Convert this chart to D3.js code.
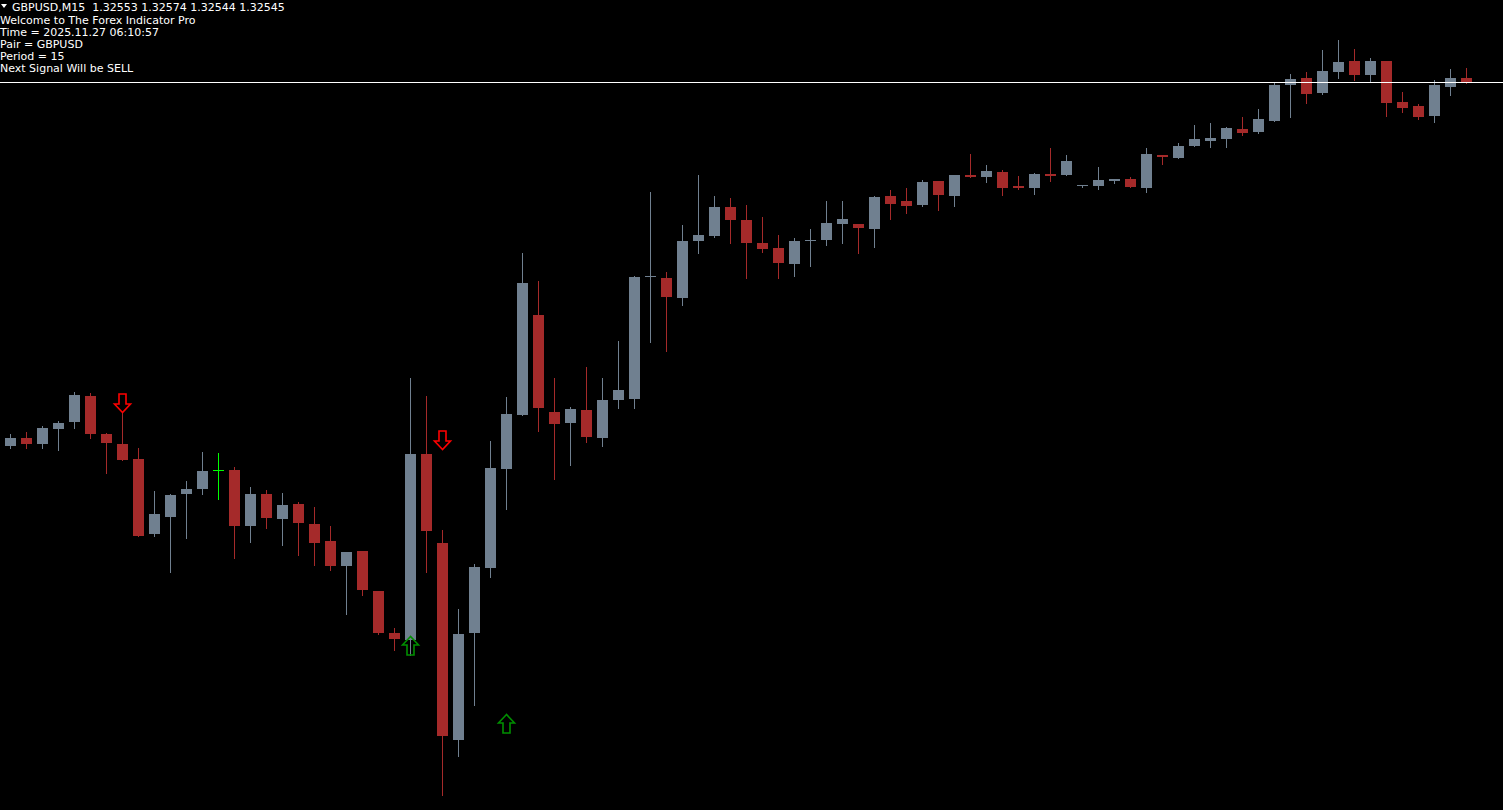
<!DOCTYPE html>
<html>
<head>
<meta charset="utf-8">
<script src="https://cdn.jsdelivr.net/npm/d3@7/dist/d3.min.js"></script>
<style>
  html, body { margin: 0; padding: 0; background: #000; overflow: hidden; }
  svg { display: block; }
  text { white-space: pre; }
</style>
</head>
<body>
<svg id="chart" width="1503" height="810"></svg>
<script>
// ---- Data (GBPUSD, M15) ----
const symbol = "GBPUSD,M15";
const infoLines = [
  "Welcome to The Forex Indicator Pro",
  "Time = 2025.11.27 06:10:57",
  "Pair = GBPUSD",
  "Period = 15",
  "Next Signal Will be SELL"
];

const opens = [
  1.31817,1.31834,1.31821,1.31851,1.31865,1.31918,1.31842,1.31822,1.31792,1.31641,
  1.31675,1.31721,1.31733,1.31769,1.31770,1.31657,1.31722,1.31671,1.31702,1.31662,
  1.31628,1.31577,1.31608,1.31528,1.31443,1.31430,1.31802,1.31624,1.31230,1.31445,
  1.31573,1.31772,1.31880,1.32080,1.31886,1.31864,1.31890,1.31834,1.31910,1.31912,
  1.32157,1.32154,1.32114,1.32228,1.32238,1.32296,1.32270,1.32224,1.32214,1.32182,
  1.32229,1.32230,1.32262,1.32262,1.32252,1.32318,1.32308,1.32300,1.32348,1.32318,
  1.32360,1.32356,1.32366,1.32338,1.32334,1.32362,1.32360,1.32338,1.32338,1.32348,
  1.32352,1.32334,1.32400,1.32394,1.32418,1.32428,1.32432,1.32452,1.32446,1.32468,
  1.32540,1.32554,1.32524,1.32566,1.32588,1.32560,1.32588,1.32506,1.32498,1.32478,
  1.32536,1.32553
];
const highs = [
  1.31842,1.31846,1.31858,1.31868,1.31926,1.31924,1.31844,1.31886,1.31814,1.31728,
  1.31722,1.31748,1.31806,1.31804,1.31776,1.31736,1.31730,1.31724,1.31706,1.31696,
  1.31658,1.31606,1.31608,1.31528,1.31454,1.31954,1.31918,1.31650,1.31492,1.31582,
  1.31828,1.31916,1.32204,1.32148,1.31954,1.31896,1.31976,1.31954,1.32028,1.32158,
  1.32326,1.32166,1.32260,1.32360,1.32318,1.32314,1.32300,1.32276,1.32240,1.32234,
  1.32252,1.32308,1.32308,1.32262,1.32318,1.32330,1.32334,1.32350,1.32348,1.32360,
  1.32402,1.32380,1.32370,1.32358,1.32364,1.32414,1.32400,1.32340,1.32376,1.32352,
  1.32356,1.32414,1.32400,1.32424,1.32460,1.32464,1.32456,1.32476,1.32492,1.32546,
  1.32562,1.32566,1.32610,1.32630,1.32612,1.32594,1.32588,1.32526,1.32502,1.32550,
  1.32572,1.32574
];
const lows = [
  1.31815,1.31813,1.31815,1.31809,1.31853,1.31833,1.31763,1.31791,1.31639,1.31639,
  1.31567,1.31633,1.31723,1.31711,1.31593,1.31626,1.31653,1.31619,1.31599,1.31581,
  1.31571,1.31483,1.31519,1.31442,1.31410,1.31400,1.31567,1.31120,1.31197,1.31299,
  1.31557,1.31691,1.31880,1.31848,1.31752,1.31780,1.31826,1.31818,1.31894,1.31894,
  1.32026,1.32008,1.32100,1.32204,1.32236,1.32224,1.32154,1.32206,1.32154,1.32158,
  1.32178,1.32220,1.32224,1.32204,1.32216,1.32272,1.32284,1.32298,1.32290,1.32298,
  1.32356,1.32346,1.32320,1.32332,1.32322,1.32348,1.32360,1.32336,1.32332,1.32344,
  1.32336,1.32326,1.32382,1.32394,1.32418,1.32416,1.32416,1.32440,1.32444,1.32468,
  1.32476,1.32504,1.32522,1.32554,1.32550,1.32548,1.32478,1.32486,1.32472,1.32466,
  1.32520,1.32544
];
const closes = [
  1.31834,1.31821,1.31854,1.31864,1.31920,1.31841,1.31823,1.31791,1.31639,1.31682,
  1.31720,1.31732,1.31768,1.31769,1.31657,1.31722,1.31673,1.31700,1.31663,1.31625,
  1.31577,1.31606,1.31529,1.31443,1.31432,1.31802,1.31647,1.31237,1.31442,1.31576,
  1.31774,1.31882,1.32144,1.31894,1.31862,1.31892,1.31836,1.31910,1.31930,1.32156,
  1.32158,1.32116,1.32228,1.32240,1.32296,1.32270,1.32224,1.32212,1.32184,1.32228,
  1.32230,1.32264,1.32272,1.32254,1.32316,1.32302,1.32298,1.32346,1.32320,1.32360,
  1.32356,1.32368,1.32334,1.32334,1.32362,1.32358,1.32388,1.32339,1.32350,1.32352,
  1.32336,1.32402,1.32396,1.32418,1.32432,1.32434,1.32454,1.32444,1.32472,1.32540,
  1.32552,1.32522,1.32568,1.32586,1.32560,1.32588,1.32504,1.32494,1.32476,1.32540,
  1.32554,1.32545
];
// bar index of the highlighted (indicator) doji
const highlightBars = [13];
// signal arrows: bar index and price of the arrow tip
const sellSignalBars = [7, 27];
const sellSignalPrices = [1.31886, 1.31812];
const buySignalBars = [25, 31];
const buySignalPrices = [1.31437, 1.31281];

// ---- Chart ----
const W = 1503, H = 810;
const svg = d3.select("#chart");
svg.append("rect").attr("width", W).attr("height", H).attr("fill", "#000");

const x = d3.scaleLinear().domain([0, opens.length - 1]).range([10, 1466]);
const y = d3.scaleLinear().domain([1.31090, 1.32710]).range([H, 0]);

const bars = opens.map((o, i) => ({ i, o, h: highs[i], l: lows[i], c: closes[i] }));
const BULL = "#708090", BEAR = "#a52a2a", LIME = "#00ff00";
const colorOf = d => highlightBars.includes(d.i) ? LIME : (d.c >= d.o ? BULL : BEAR);

const g = svg.append("g").attr("shape-rendering", "crispEdges");

// wicks
g.selectAll("rect.wick").data(bars).join("rect")
  .attr("class", "wick")
  .attr("x", d => Math.round(x(d.i)))
  .attr("width", 1)
  .attr("y", d => Math.round(y(d.h)))
  .attr("height", d => Math.max(1, Math.round(y(d.l)) - Math.round(y(d.h)) + 1))
  .attr("fill", colorOf);

// bodies
g.selectAll("rect.body").data(bars).join("rect")
  .attr("class", "body")
  .attr("x", d => Math.round(x(d.i)) - 5)
  .attr("width", 11)
  .attr("y", d => Math.round(y(Math.max(d.o, d.c))))
  .attr("height", d => Math.max(1, Math.round(y(Math.min(d.o, d.c))) - Math.round(y(Math.max(d.o, d.c)))))
  .attr("fill", colorOf);

// arrows
const arrowDown = "M0,0 L-8,-8.5 L-3.5,-8.5 L-3.5,-18.5 L3.5,-18.5 L3.5,-8.5 L8,-8.5 Z";
const arrowUp = "M0,0 L-8,8.5 L-3.5,8.5 L-3.5,18.5 L3.5,18.5 L3.5,8.5 L8,8.5 Z";
const sells = sellSignalBars.map((b, k) => ({ b, p: sellSignalPrices[k] }));
const buys = buySignalBars.map((b, k) => ({ b, p: buySignalPrices[k] }));
svg.selectAll("path.sell").data(sells).join("path")
  .attr("class", "sell")
  .attr("transform", d => `translate(${Math.round(x(d.b)) + 0.5},${Math.round(y(d.p)) + 0.5})`)
  .attr("d", arrowDown)
  .attr("fill", "none").attr("stroke", "#ff0000").attr("stroke-width", 1.6);
svg.selectAll("path.buy").data(buys).join("path")
  .attr("class", "buy")
  .attr("transform", d => `translate(${Math.round(x(d.b)) + 0.5},${Math.round(y(d.p)) + 0.5})`)
  .attr("d", arrowUp)
  .attr("fill", "none").attr("stroke", "#008f00").attr("stroke-width", 1.6);

// bid line at last close
const last = bars[bars.length - 1];
const bidY = Math.floor(y(last.c)) + 0.5;
svg.append("line").attr("x1", 0).attr("x2", W).attr("y1", bidY).attr("y2", bidY)
  .attr("stroke", "#ffffff").attr("stroke-width", 1).attr("shape-rendering", "crispEdges");

// header
const fmt = d3.format(".5f");
svg.append("path").attr("d", "M1,4 L7,4 L4,8 Z").attr("fill", "#ffffff");
svg.append("text").attr("x", 12).attr("y", 11)
  .attr("font-family", "DejaVu Sans, sans-serif").attr("font-size", 11).attr("fill", "#ffffff")
  .text(`${symbol}  ${fmt(last.o)} ${fmt(last.h)} ${fmt(last.l)} ${fmt(last.c)}`);
svg.selectAll("text.info").data(infoLines).join("text")
  .attr("class", "info")
  .attr("x", 0).attr("y", (d, k) => 24 + 12 * k)
  .attr("font-family", "DejaVu Sans, sans-serif").attr("font-size", 11).attr("fill", "#ffffff")
  .text(d => d);
</script>
</body>
</html>
